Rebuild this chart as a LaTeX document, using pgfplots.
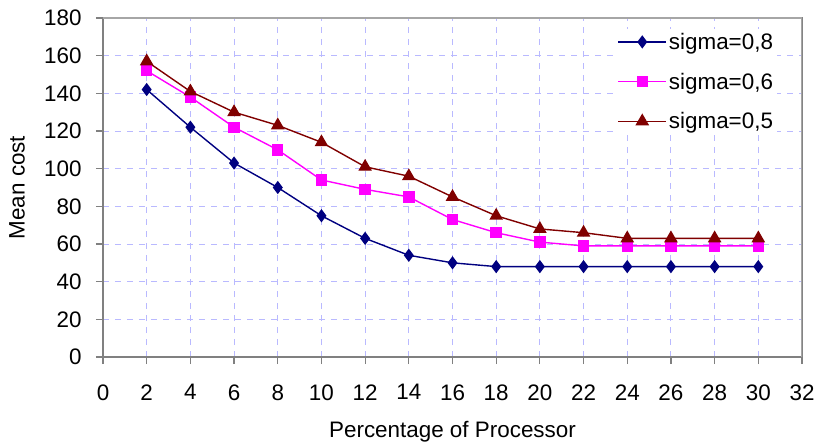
\documentclass[border=0pt]{standalone}
\usepackage{fontspec}
\setmainfont{Liberation Sans}
\usepackage{pgfplots}
\pgfplotsset{compat=1.18}
\definecolor{sblue}{RGB}{0,0,128}
\definecolor{spink}{RGB}{255,0,255}
\definecolor{sbrown}{RGB}{128,0,0}
\definecolor{gridc}{RGB}{185,185,255}
\definecolor{axc}{RGB}{128,128,128}
\begin{document}
\begin{tikzpicture}
\begin{axis}[
  scale only axis,
  width=699bp, height=339bp,
  xmin=0, xmax=32, ymin=0, ymax=180,
  xtick={0,2,...,32}, ytick={0,20,...,180},
  font=\fontsize{22.5}{26}\selectfont,
  /pgf/number format/assume math mode=true,
  tick align=outside, xtick pos=bottom, ytick pos=left,
  major tick length=7bp,
  tick style={axc, line width=1.2bp},
  axis line style={axc, line width=1.5bp},
  grid=major,
  major grid style={gridc, dash pattern=on 6bp off 6bp, line width=0.9bp},
  xticklabel style={yshift=-17bp},
  yticklabel style={xshift=-11bp},
  xlabel={Percentage of Processor},
  ylabel={Mean cost},
  xlabel style={at={(rel axis cs:0.5,0)}, anchor=center, yshift=-75bp},
  ylabel style={at={(rel axis cs:0,0.5)}, anchor=center, yshift=86bp},
  legend style={at={(rel axis cs:0.733,0.968)}, anchor=north west, draw=none, fill=white,
    font=\fontsize{22.5}{26}\selectfont, row sep=18bp, inner sep=2bp},
  legend cell align=left,
  legend image code/.code={\draw[mark repeat=2,mark phase=2] plot coordinates {(0bp,0bp) (24bp,0bp) (48bp,0bp)};},
]
\addplot[sblue, line width=1.4bp, mark=diamond*, mark size=5.5bp, mark options={solid}] coordinates {
(2,142) (4,122) (6,103) (8,90) (10,75) (12,63) (14,54) (16,50) (18,48) (20,48) (22,48) (24,48) (26,48) (28,48) (30,48)};
\addlegendentry{sigma=0,8}
\addplot[spink, line width=1.4bp, mark=square*, mark size=5bp] coordinates {
(2,152) (4,138) (6,122) (8,110) (10,94) (12,89) (14,85) (16,73) (18,66) (20,61) (22,59) (24,59) (26,59) (28,59) (30,59)};
\addlegendentry{sigma=0,6}
\addplot[sbrown, line width=1.4bp, mark=triangle*, mark size=6.5bp] coordinates {
(2,157) (4,141) (6,130) (8,123) (10,114) (12,101) (14,96) (16,85) (18,75) (20,68) (22,66) (24,63) (26,63) (28,63) (30,63)};
\addlegendentry{sigma=0,5}
\draw[color=axc!70, line width=1.5bp] (rel axis cs:0,1) -- (rel axis cs:1,1) -- (rel axis cs:1,0);
\end{axis}
\pgfresetboundingbox
\path[use as bounding box] (-103bp,-89bp) rectangle (711bp,357bp);
\end{tikzpicture}
\end{document}
